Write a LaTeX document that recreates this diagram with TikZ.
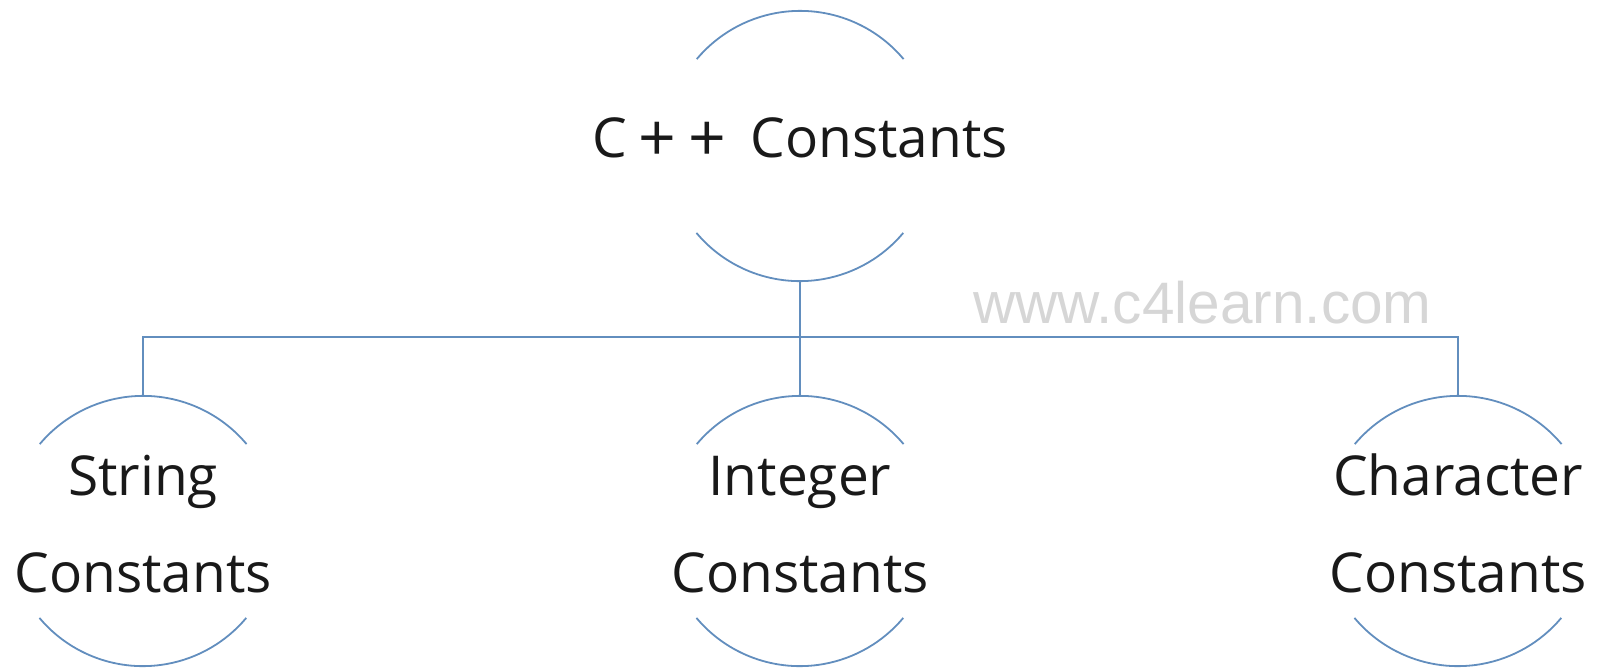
\documentclass[tikz,border=0pt]{standalone}
\usepackage{fontspec}
\usepackage{graphicx}
\setmainfont{Open Sans}
\newfontfamily\markfont{Liberation Sans}
\definecolor{linkblue}{RGB}{98,142,190}
\definecolor{markgray}{RGB}{214,214,214}
\definecolor{inkblack}{RGB}{25,25,25}
% zero-width line so the text never widens the circle
\newcommand\zw[1]{\makebox[0pt]{#1}}
% a slightly wider plus sign
\newcommand\bigplus{\raisebox{-4pt}{\scalebox{1.2}{+}}}
\begin{document}
\begin{tikzpicture}[x=1pt,y=1pt,
  bubble/.style={circle, minimum size=270pt, inner sep=0pt,
    font=\fontsize{55}{97}\selectfont, text=inkblack, align=center},
  rim/.style={draw=linkblue, line width=1.8pt},
  wire/.style={draw=linkblue, line width=1.8pt},
  sitelabel/.style={font=\markfont\fontsize{58.5}{60}\selectfont, text=markgray,
    anchor=base west, inner sep=0pt}]
\useasboundingbox (0,0) rectangle (1600,-667);

% root and the three kinds of constants
\node[bubble, text height=37pt, text depth=15pt] (top) at (800,-146)
  {\zw{C\kern12pt\bigplus\kern12pt\bigplus\kern24pt Constants}};
\node[bubble, text height=137pt, text depth=15pt] (str) at (143,-531)
  {\zw{String}\\\zw{Constants}};
\node[bubble, text height=137pt, text depth=15pt] (int) at (800,-531)
  {\zw{Integer}\\\zw{Constants}};
\node[bubble, text height=137pt, text depth=15pt] (chr) at (1458,-531)
  {\zw{Character}\\\zw{Constants}};

% open arcs above and below each label
\foreach \n in {top,str,int,chr}{
  \draw[rim] (\n.40) arc[start angle=40, end angle=140, radius=135pt];
  \draw[rim] (\n.220) arc[start angle=220, end angle=320, radius=135pt];
}

% tree connectors
\coordinate (bus) at (800,-337);
\draw[wire] (top.south) -- (int.north);
\draw[wire] (str.north) -- (str.north |- bus) -- (chr.north |- bus) -- (chr.north);

\node[sitelabel] (site) at (973,-323) {www.c4learn.com};
\end{tikzpicture}
\end{document}
